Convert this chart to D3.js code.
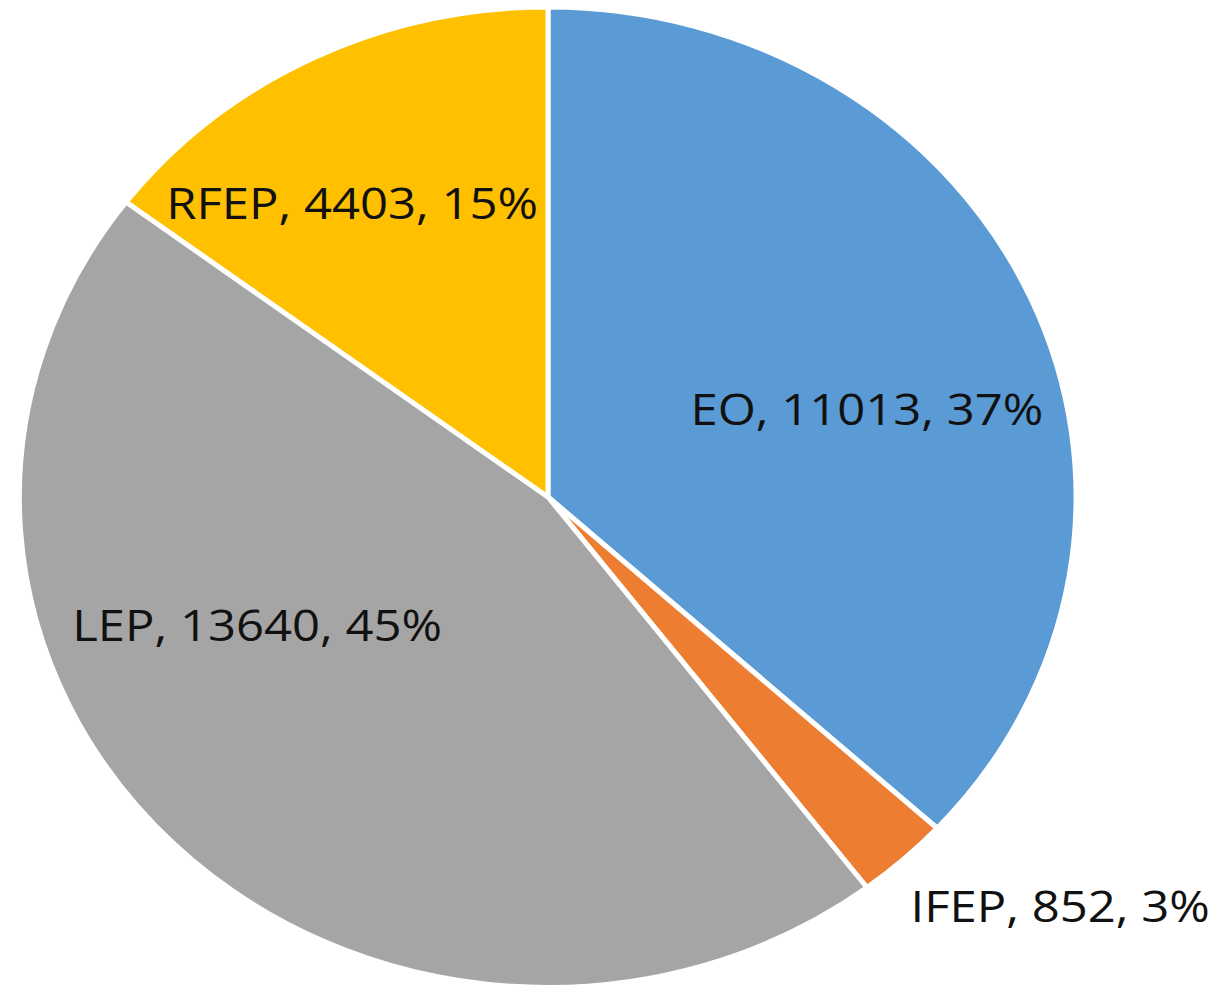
<!DOCTYPE html>
<html>
<head>
<meta charset="utf-8">
<script src="https://cdn.jsdelivr.net/npm/d3@7"></script>
<style>
    body { margin: 0; background: #fff; }
    .slice { stroke: #fff; stroke-width: 5; vector-effect: non-scaling-stroke; stroke-linejoin: round; }
    .label_pie { font-family: "Open Sans", sans-serif; font-size: 43px; fill: #111; }
</style>
</head>
<body>
<div class="pie_chart"></div>
<script>
const categories = ["EO", "IFEP", "LEP", "RFEP"]
const counts = [11013, 852, 13640, 4403]
const percents = [37, 3, 45, 15]   // as printed on the chart
const colours = ["#5B9BD5", "#ED7D31", "#A5A5A5", "#FFC000"]

// label centres in unit ellipse coords (Excel "best fit" spots)
const labelPos = [[0.604, -0.178], [0.970, 0.835], [-0.551, 0.263], [-0.371, -0.598]]

function drawPie() {

    const width = 1218
    const height = 993
    const cx = 548, cy = 497
    const rx = 528, ry = 490

    const data = categories.map((c, i) => ({ name: c, value: counts[i], pct: percents[i], colour: colours[i], pos: labelPos[i] }))

    const svg = d3.select(".pie_chart")
        .append("svg")
        .attr("width", width)
        .attr("height", height)

    const pie = d3.pie().value(d => d.value).sort(null)
    const arc = d3.arc().innerRadius(0).outerRadius(1)

    // chart is a bit wider than tall, so draw unit pie and stretch it
    svg.append("g")
        .attr("transform", `translate(${cx},${cy}) scale(${rx},${ry})`)
        .selectAll("path")
        .data(pie(data))
        .join("path")
        .attr("class", "slice")
        .attr("d", arc)
        .attr("fill", d => d.data.colour)

    // text is stretched sideways too
    svg.append("g")
        .selectAll("text")
        .data(data)
        .join("text")
        .attr("class", "label_pie")
        .attr("transform", d => `translate(${cx + d.pos[0] * rx},${cy + d.pos[1] * ry}) scale(1.14,1)`)
        .attr("text-anchor", "middle")
        .attr("dy", "0.36em")
        .text(d => `${d.name}, ${d.value}, ${d.pct}%`)
}

drawPie()
</script>
</body>
</html>
